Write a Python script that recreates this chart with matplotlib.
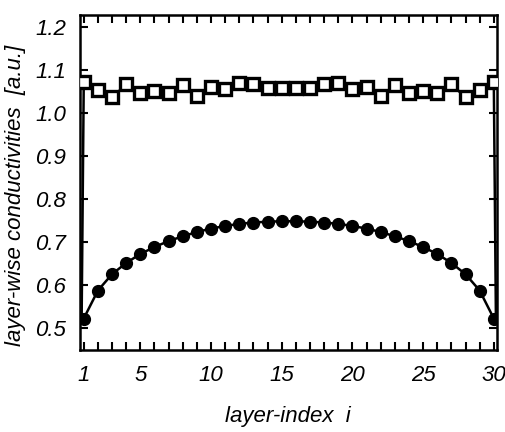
import numpy as np
import matplotlib.pyplot as plt
from matplotlib.ticker import FixedLocator

plt.rcParams['font.family'] = ['Liberation Sans', 'DejaVu Sans']
plt.rcParams['font.style'] = 'italic'

# layer index
layers = list(range(1, 31))

# open squares (first half, mirrored)
sq_half = [1.072, 1.053, 1.037, 1.067, 1.047, 1.051, 1.047, 1.065, 1.040, 1.060,
           1.056, 1.070, 1.067, 1.058, 1.058]
squares = sq_half + sq_half[::-1]

# filled circles (first half, mirrored)
ci_half = [0.523, 0.588, 0.626, 0.652, 0.673, 0.689, 0.703, 0.714, 0.724, 0.732,
           0.738, 0.743, 0.746, 0.748, 0.749]
circles = ci_half + ci_half[::-1]

# end points of the square curve (outside layer range, no marker)
sq_end_x = [0.85, 30.15]
sq_end_y = [0.52, 0.52]

fig = plt.figure(figsize=(5.05, 4.32), dpi=100)
ax = fig.add_axes([0.158, 0.19, 0.826, 0.775])

lw = 1.8
sq_x = [sq_end_x[0]] + layers + [sq_end_x[1]]
sq_y = [sq_end_y[0]] + squares + [sq_end_y[1]]
ax.plot(sq_x, sq_y, color='black', lw=lw, zorder=2)
ax.plot(layers, squares, ls='none', marker='s', ms=8.5, mfc='white',
        mec='black', mew=2.4, zorder=3)
ax.plot(layers, circles, color='black', lw=lw, marker='o', ms=8.5,
        mfc='black', mec='black', zorder=3)

ax.set_xlim(0.72, 30.22)
ax.set_ylim(0.45, 1.228)

ax.set_xticks([1, 5, 10, 15, 20, 25, 30])
ax.xaxis.set_minor_locator(FixedLocator(layers))
ax.set_yticks([0.5, 0.6, 0.7, 0.8, 0.9, 1.0, 1.1, 1.2])
ax.set_yticklabels(['0.5', '0.6', '0.7', '0.8', '0.9', '1.0', '1.1', '1.2'])

ax.tick_params(which='both', direction='in', top=True, right=True,
               width=1.5, labelsize=16)
ax.tick_params(which='major', length=6)
ax.tick_params(which='minor', length=6)
ax.tick_params(axis='x', pad=11)
ax.tick_params(axis='y', pad=10)

for s in ax.spines.values():
    s.set_linewidth(1.8)

ax.set_xlabel('layer-index  i', fontsize=16, labelpad=14)
ax.set_ylabel('layer-wise conductivities  [a.u.]', fontsize=16)
ax.yaxis.set_label_coords(-0.13, 0.46)

fig.savefig('out.png', dpi=100)
